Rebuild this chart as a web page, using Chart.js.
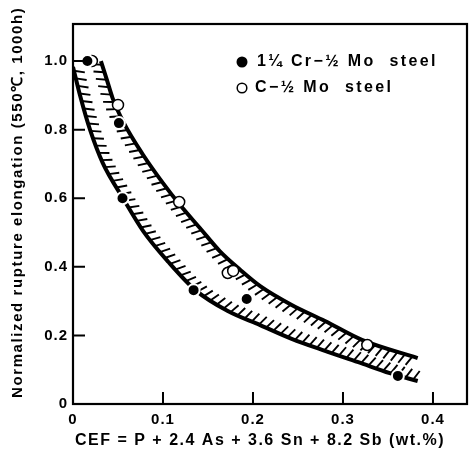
<!DOCTYPE html>
<html>
<head>
<meta charset="utf-8">
<script src="https://cdn.jsdelivr.net/npm/chart.js@4.4.0/dist/chart.umd.min.js"></script>
<style>
  html, body { margin: 0; padding: 0; background: #fff; }
</style>
</head>
<body>
<canvas id="chart" width="470" height="459"></canvas>
<script>
  // Data
  const xTicks = [0, 0.1, 0.2, 0.3, 0.4];
  const yTicks = [0, 0.2, 0.4, 0.6, 0.8, 1.0];

  // 1 1/4 Cr - 1/2 Mo steel (filled)
  const crMoX = [0.016, 0.051, 0.055, 0.134, 0.193, 0.361];
  const crMoY = [1.0, 0.819, 0.600, 0.332, 0.306, 0.082];

  // C - 1/2 Mo steel (open)
  const cMoX = [0.021, 0.050, 0.118, 0.172, 0.178, 0.327];
  const cMoY = [1.0, 0.872, 0.589, 0.382, 0.388, 0.172];

  // upper / lower bounds of the scatter band
  const upperX = [0.031, 0.038, 0.044, 0.056, 0.078, 0.100, 0.119, 0.141, 0.163, 0.186, 0.208, 0.243, 0.280, 0.321, 0.383];
  const upperY = [1.000, 0.942, 0.892, 0.822, 0.726, 0.644, 0.580, 0.513, 0.446, 0.391, 0.344, 0.289, 0.242, 0.187, 0.134];
  const lowerX = [0.000, 0.008, 0.019, 0.033, 0.056, 0.078, 0.106, 0.136, 0.172, 0.208, 0.243, 0.280, 0.317, 0.352, 0.383];
  const lowerY = [0.983, 0.898, 0.799, 0.703, 0.598, 0.504, 0.414, 0.332, 0.271, 0.230, 0.190, 0.155, 0.122, 0.090, 0.067];

  const xTitle = "CEF = P + 2.4 As + 3.6 Sn + 8.2 Sb (wt.%)";
  const yTitle = "Normalized rupture elongation (550\u2103, 1000h)";
  const legendNames = ["1\u00BC Cr\u2212\u00BD Mo  steel", "C\u2212\u00BD Mo  steel"];

  const toXY = (xs, ys) => xs.map((x, i) => ({ x: x, y: ys[i] }));
  const FONT = "'Liberation Sans', Arial, sans-serif";

  Chart.defaults.font.family = FONT;
  Chart.defaults.font.weight = "bold";
  Chart.defaults.color = "#000";

  // wide letter spacing like the typeset original
  const spacing = {
    id: "spacing",
    beforeUpdate(chart) { chart.ctx.letterSpacing = "1px"; },
    beforeDraw(chart) { chart.ctx.letterSpacing = "1px"; }
  };

  // short slanted strokes on the inner side of each bound curve
  const hatch = {
    id: "hatch",
    beforeDatasetsDraw(chart) {
      const ctx = chart.ctx;
      const th = 22 * Math.PI / 180;
      const cs = Math.cos(th), sn = Math.sin(th);
      ctx.save();
      ctx.strokeStyle = "#000";
      ctx.lineWidth = 1.9;
      ctx.lineCap = "butt";
      chart.data.datasets.forEach((ds, i) => {
        if (!ds.hatchSide) return;
        const meta = chart.getDatasetMeta(i);
        meta.dataset.updateControlPoints(chart.chartArea, "x");
        const pts = meta.data;
        const path = [];
        for (let k = 0; k < pts.length - 1; k++) {
          const a = pts[k], b = pts[k + 1];
          const c1x = a.cp2x ?? a.x, c1y = a.cp2y ?? a.y;
          const c2x = b.cp1x ?? b.x, c2y = b.cp1y ?? b.y;
          for (let s = 0; s < 24; s++) {
            const t = s / 24, u = 1 - t;
            path.push({
              x: u*u*u*a.x + 3*u*u*t*c1x + 3*u*t*t*c2x + t*t*t*b.x,
              y: u*u*u*a.y + 3*u*u*t*c1y + 3*u*t*t*c2y + t*t*t*b.y
            });
          }
        }
        path.push({ x: pts[pts.length - 1].x, y: pts[pts.length - 1].y });

        const step = 7.8, len = 11;
        let next = 4;
        ctx.beginPath();
        for (let k = 1; k < path.length; k++) {
          const p0 = path[k - 1], p1 = path[k];
          const dx = p1.x - p0.x, dy = p1.y - p0.y;
          const d = Math.hypot(dx, dy);
          if (!d) continue;
          const tx = dx / d, ty = dy / d;
          let nx, ny;
          if (ds.hatchSide === "up") { nx = ty; ny = -tx; } else { nx = -ty; ny = tx; }
          const rx = nx * cs - ny * sn, ry = nx * sn + ny * cs;
          while (next <= d) {
            const px = p0.x + tx * next, py = p0.y + ty * next;
            ctx.moveTo(px, py);
            ctx.lineTo(px + rx * len, py + ry * len);
            next += step;
          }
          next -= d;
        }
        ctx.stroke();
      });
      ctx.restore();
    }
  };

  // box frame, inward ticks, axis titles and the legend
  const frame = {
    id: "frame",
    afterDraw(chart) {
      const { ctx, chartArea: a, scales: { x, y } } = chart;
      ctx.save();
      ctx.strokeStyle = "#000";
      ctx.lineWidth = 2.2;
      ctx.strokeRect(a.left, a.top, a.right - a.left, a.bottom - a.top);
      ctx.lineWidth = 2;
      ctx.beginPath();
      xTicks.forEach(v => {
        const px = x.getPixelForValue(v);
        ctx.moveTo(px, a.bottom);
        ctx.lineTo(px, a.bottom - 12);
      });
      yTicks.forEach(v => {
        const py = y.getPixelForValue(v);
        ctx.moveTo(a.left, py);
        ctx.lineTo(a.left + 12, py);
      });
      ctx.stroke();

      ctx.fillStyle = "#000";
      ctx.textBaseline = "middle";
      ctx.textAlign = "left";

      // axis titles
      ctx.font = "bold 16px " + FONT;
      ctx.letterSpacing = "1.5px";
      ctx.fillText(xTitle, a.left + 2, chart.height - 18);

      ctx.save();
      ctx.translate(18, a.bottom - 6);
      ctx.rotate(-Math.PI / 2);
      ctx.font = "bold 15px " + FONT;
      ctx.letterSpacing = "1.6px";
      ctx.fillText(yTitle, 0, 0);
      ctx.restore();

      // legend
      const lx = a.left + 169, ly = a.top + 38;
      ctx.lineWidth = 1.5;
      ctx.beginPath();
      ctx.arc(lx, ly, 5.5, 0, Math.PI * 2);
      ctx.fill();
      ctx.beginPath();
      ctx.arc(lx, ly + 26, 4.8, 0, Math.PI * 2);
      ctx.fillStyle = "#fff";
      ctx.fill();
      ctx.stroke();
      ctx.fillStyle = "#000";
      ctx.font = "bold 16px " + FONT;
      ctx.letterSpacing = "2.4px";
      ctx.fillText(legendNames[0], lx + 15, ly);
      ctx.fillText(legendNames[1], lx + 13, ly + 26);
      ctx.restore();
    }
  };

  new Chart(document.getElementById("chart"), {
    type: "line",
    data: {
      datasets: [
        {
          label: legendNames[0],
          data: toXY(crMoX, crMoY),
          showLine: false,
          pointRadius: 6,
          pointBackgroundColor: "#000",
          pointBorderColor: "#fff",
          pointBorderWidth: 2,
          order: 1
        },
        {
          label: legendNames[1],
          data: toXY(cMoX, cMoY),
          showLine: false,
          pointRadius: 5.5,
          pointBackgroundColor: "#fff",
          pointBorderColor: "#000",
          pointBorderWidth: 1.5,
          order: 2
        },
        {
          label: "upper",
          data: toXY(upperX, upperY),
          borderColor: "#000",
          borderWidth: 4,
          pointRadius: 0,
          cubicInterpolationMode: "monotone",
          fill: false,
          hatchSide: "down",
          order: 3
        },
        {
          label: "lower",
          data: toXY(lowerX, lowerY),
          borderColor: "#000",
          borderWidth: 4,
          pointRadius: 0,
          cubicInterpolationMode: "monotone",
          fill: false,
          hatchSide: "up",
          order: 4
        }
      ]
    },
    options: {
      responsive: false,
      animation: false,
      devicePixelRatio: 1,
      layout: { autoPadding: false, padding: { left: 0, top: 24, right: 3, bottom: 0 } },
      plugins: {
        legend: { display: false },
        tooltip: { enabled: false }
      },
      scales: {
        x: {
          type: "linear",
          min: 0,
          max: 0.4378,
          grid: { display: false, drawTicks: false },
          border: { display: false },
          afterBuildTicks: s => { s.ticks = xTicks.map(v => ({ value: v })); },
          afterFit: s => { s.height = 55; s.paddingLeft = 0; s.paddingRight = 0; },
          ticks: {
            padding: 7,
            font: { size: 15 },
            maxRotation: 0,
            callback: v => v === 0 ? "0" : v.toFixed(1)
          }
        },
        y: {
          min: 0,
          max: 1.108,
          grid: { display: false, drawTicks: false },
          border: { display: false },
          afterBuildTicks: s => { s.ticks = yTicks.map(v => ({ value: v })); },
          afterFit: s => { s.width = 73; s.paddingTop = 0; s.paddingBottom = 0; },
          ticks: {
            padding: 5,
            font: { size: 15 },
            callback: v => v === 0 ? "0" : v.toFixed(1)
          }
        }
      }
    },
    plugins: [spacing, hatch, frame]
  });
</script>
</body>
</html>
